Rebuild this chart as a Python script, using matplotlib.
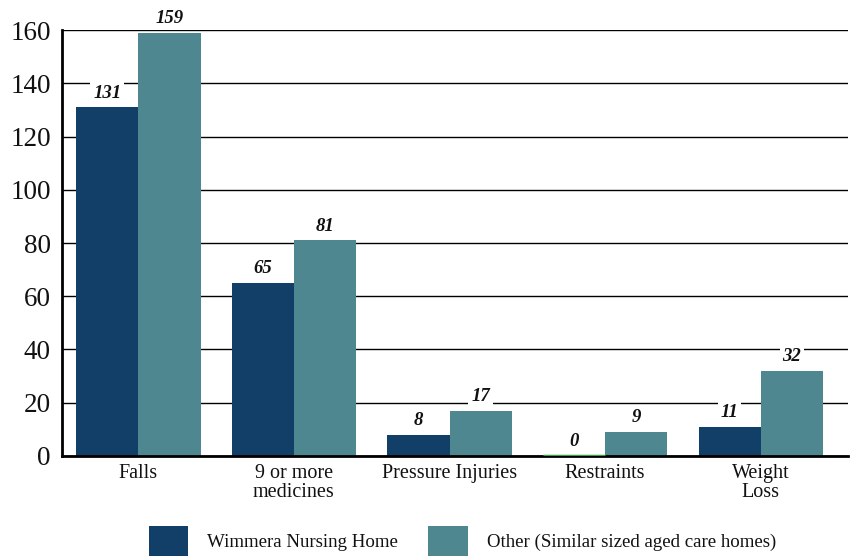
import matplotlib
matplotlib.use('Agg')
import matplotlib.pyplot as plt
import numpy as np

categories = ['Falls', '9 or more\nmedicines', 'Pressure Injuries', 'Restraints', 'Weight\nLoss']
wimmera = [131, 65, 8, 0, 11]
other = [159, 81, 17, 9, 32]
series_names = ['Wimmera Nursing Home', 'Other (Similar sized aged care homes)']

navy = '#113f67'
teal = '#4e878f'

plt.rcParams['font.family'] = ['Liberation Serif', 'DejaVu Serif']

fig = plt.figure(figsize=(8.58, 5.58), dpi=100)
ax = fig.add_axes([0.0723, 0.183, 0.916, 0.763])

x = np.arange(len(categories))
w = 0.40
b1 = ax.bar(x - w / 2, wimmera, w, color=navy, label=series_names[0], zorder=2)
b2 = ax.bar(x + w / 2, other, w, color=teal, label=series_names[1], zorder=2)

# zero-height bar still shows as a thin green line on the baseline
for rect, v in zip(b1, wimmera):
    if v == 0:
        rect.set_edgecolor('#3a9e48')
        rect.set_linewidth(2.5)
        rect.set_zorder(5)

for bars, vals in ((b1, wimmera), (b2, other)):
    for rect, v in zip(bars, vals):
        ax.annotate(str(v), (rect.get_x() + rect.get_width() / 2, v),
                    xytext=(0, 4), textcoords='offset points',
                    ha='center', va='bottom', fontsize=13.5,
                    fontweight='bold', fontstyle='italic', color='#111111',
                    bbox=dict(boxstyle='square,pad=0.15', fc='white', ec='none'),
                    zorder=4)

ax.set_ylim(0, 160)
ax.set_xlim(-0.49, 4.56)
ax.set_yticks(range(0, 161, 20))
ax.set_xticks(x)
ax.set_xticklabels(categories, fontsize=14.5, color='#111111', linespacing=0.95)
ax.tick_params(axis='y', labelsize=19.5, length=0, pad=8, labelcolor='#111111')
ax.tick_params(axis='x', length=0, pad=6)

ax.yaxis.grid(True, color='black', linewidth=1.0, zorder=0)
ax.set_axisbelow(True)
for s in ('top', 'right'):
    ax.spines[s].set_visible(False)
ax.spines['left'].set_linewidth(2)
ax.spines['bottom'].set_linewidth(2)
ax.spines['bottom'].set_zorder(3)

fig.legend(handles=[b1, b2], labels=series_names, loc='center',
           bbox_to_anchor=(0.539, 0.03), ncol=2, frameon=False,
           fontsize=13.6, handlelength=2.1, handleheight=2.1,
           handletextpad=1.0, columnspacing=1.6, labelcolor='#111111')

fig.savefig('out.png', dpi=100, facecolor='white')
